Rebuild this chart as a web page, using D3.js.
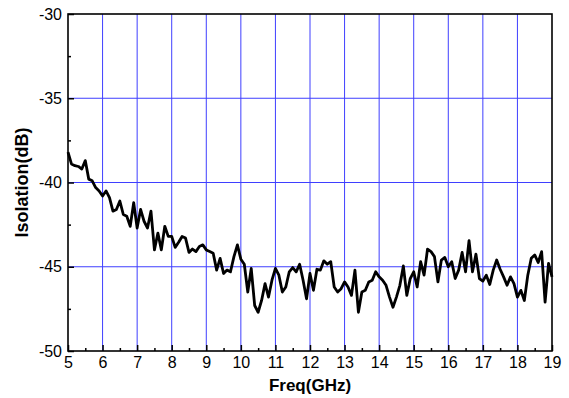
<!DOCTYPE html>
<html>
<head>
<meta charset="utf-8">
<script src="https://cdn.jsdelivr.net/npm/d3@7"></script>
<style>
  body { margin: 0; background: #fff; }
  svg { display: block; font-family: "Liberation Sans", Arial, sans-serif; }
</style>
</head>
<body>
<div id="chart"></div>
<script>
// measured isolation, 5 to 19 GHz in 0.1 GHz steps
const freqStart = 5;
const freqStep = 0.1;
const isolation = [
  -38.2, -38.9, -39.0, -39.05, -39.2, -38.7, -39.8, -39.9, -40.3, -40.5,
  -40.8, -40.5, -40.9, -41.7, -41.6, -41.1, -41.9, -42.0, -42.6, -41.2,
  -42.7, -41.6, -42.3, -42.7, -41.7, -44.0, -43.0, -44.0, -42.6, -43.2,
  -43.2, -43.85, -43.55, -43.2, -43.3, -44.15, -43.95, -44.1, -43.8, -43.7,
  -44.0, -44.1, -44.2, -45.2, -44.5, -45.4, -45.2, -45.3, -44.4, -43.7,
  -44.55, -44.85, -46.5, -45.1, -47.3, -47.7, -47.0, -46.0, -46.8, -45.8,
  -45.1, -45.5, -46.5, -46.2, -45.3, -45.05, -45.3, -44.85, -45.8, -46.9,
  -45.4, -46.4, -45.15, -45.2, -44.65, -44.85, -44.7, -46.2, -46.5, -46.3,
  -45.9, -46.2, -46.7, -45.2, -47.7, -46.5, -46.4, -45.9, -45.8, -45.3,
  -45.6, -45.8, -46.1, -46.8, -47.4, -46.8, -46.1, -44.95, -46.7, -45.7,
  -45.3, -46.2, -44.7, -45.5, -43.95, -44.1, -44.4, -45.9, -44.6, -44.45,
  -45.0, -44.7, -45.7, -45.2, -44.15, -45.3, -43.45, -45.3, -44.25, -45.7,
  -45.85, -45.5, -46.05, -45.2, -44.6, -45.15, -45.6, -46.1, -45.6, -46.0,
  -46.8, -46.4, -47.0, -45.5, -44.5, -44.3, -44.75, -44.1, -47.1, -44.8,
  -45.6
];
const xTicks = [5, 6, 7, 8, 9, 10, 11, 12, 13, 14, 15, 16, 17, 18, 19];
const yTicks = [-50, -45, -40, -35, -30];
const xTitle = 'Freq(GHz)';
const yTitle = 'Isolation(dB)';

const width = 569, height = 398;
const margin = { top: 14, right: 17, bottom: 47, left: 68 };
const innerW = width - margin.left - margin.right;
const innerH = height - margin.top - margin.bottom;

const data = isolation.map((v, i) => ({ f: freqStart + i * freqStep, v: v }));

const svg = d3.select('#chart').append('svg')
  .attr('width', width)
  .attr('height', height);

const g = svg.append('g')
  .attr('transform', 'translate(' + margin.left + ',' + margin.top + ')');

const x = d3.scaleLinear().domain([5, 19]).range([0, innerW]);
const y = d3.scaleLinear().domain([-50, -30]).range([innerH, 0]);

// grid
const gridColor = '#3f3fff';
g.selectAll('.vgrid')
  .data(xTicks.slice(1, -1))
  .enter().append('line')
  .attr('x1', d => x(d)).attr('x2', d => x(d))
  .attr('y1', 0).attr('y2', innerH)
  .attr('stroke', gridColor).attr('stroke-width', 1);
g.selectAll('.hgrid')
  .data(yTicks.slice(1, -1))
  .enter().append('line')
  .attr('y1', d => y(d)).attr('y2', d => y(d))
  .attr('x1', 0).attr('x2', innerW)
  .attr('stroke', gridColor).attr('stroke-width', 1);

// minor ticks
const xMinor = d3.range(5.5, 19, 1);
const yMinor = d3.range(-47.5, -30, 5);
g.append('g')
  .attr('transform', 'translate(0,' + innerH + ')')
  .call(d3.axisBottom(x).tickValues(xMinor).tickSizeInner(-3).tickSizeOuter(0).tickFormat(''))
  .call(s => s.select('.domain').remove())
  .selectAll('line').attr('stroke-width', 1.5);
g.append('g')
  .call(d3.axisLeft(y).tickValues(yMinor).tickSizeInner(-3).tickSizeOuter(0).tickFormat(''))
  .call(s => s.select('.domain').remove())
  .selectAll('line').attr('stroke-width', 1.5);

// major axes (plain hyphen for minus, as in the original)
const plain = d => String(d);
const xAxis = g.append('g')
  .attr('transform', 'translate(0,' + innerH + ')')
  .call(d3.axisBottom(x).tickValues(xTicks).tickSizeInner(-6).tickSizeOuter(0).tickPadding(6).tickFormat(plain));
xAxis.select('.domain').remove();
xAxis.selectAll('line').attr('stroke-width', 1.5);
xAxis.selectAll('text').attr('font-size', 16).attr('fill', '#000')
  .attr('font-family', '"Liberation Sans", Arial, sans-serif');

const yAxis = g.append('g')
  .call(d3.axisLeft(y).tickValues(yTicks).tickSizeInner(-6).tickSizeOuter(0).tickPadding(6).tickFormat(plain));
yAxis.select('.domain').remove();
yAxis.selectAll('line').attr('stroke-width', 1.5);
yAxis.selectAll('text').attr('font-size', 16).attr('fill', '#000')
  .attr('font-family', '"Liberation Sans", Arial, sans-serif');

// data line
const line = d3.line()
  .x(d => x(d.f))
  .y(d => y(d.v));
g.append('path')
  .datum(data)
  .attr('fill', 'none')
  .attr('stroke', '#000')
  .attr('stroke-width', 2.8)
  .attr('stroke-linejoin', 'round')
  .attr('d', line);

// frame
g.append('rect')
  .attr('x', 0).attr('y', 0)
  .attr('width', innerW).attr('height', innerH)
  .attr('fill', 'none')
  .attr('stroke', '#000')
  .attr('stroke-width', 1.6);

// titles
svg.append('text')
  .attr('x', margin.left + innerW / 2)
  .attr('y', 391)
  .attr('text-anchor', 'middle')
  .attr('font-size', 17)
  .attr('font-weight', 'bold')
  .text(xTitle);

svg.append('text')
  .attr('transform', 'translate(28,' + (margin.top + innerH / 2) + ') rotate(-90)')
  .attr('text-anchor', 'middle')
  .attr('font-size', 18)
  .attr('font-weight', 'bold')
  .text(yTitle);
</script>
</body>
</html>
